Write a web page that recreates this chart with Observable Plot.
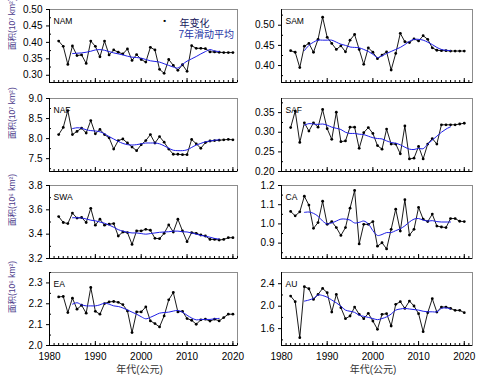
<!DOCTYPE html>
<html><head><meta charset="utf-8">
<script src="https://cdn.jsdelivr.net/npm/d3@7"></script>
<script src="https://cdn.jsdelivr.net/npm/@observablehq/plot@0.6"></script>
<style>
body{margin:0;background:#fff;}
#chart{position:relative;width:479px;height:382px;overflow:hidden;font-family:"Liberation Sans",Arial,"Noto Sans CJK SC",sans-serif;}
#chart .p{position:absolute;}
</style></head><body><div id="chart"></div>
<script>
const years = [1982,1983,1984,1985,1986,1987,1988,1989,1990,1991,1992,1993,1994,1995,1996,1997,1998,1999,2000,2001,2002,2003,2004,2005,2006,2007,2008,2009,2010,2011,2012,2013,2014,2015,2016,2017,2018,2019,2020];
const maYears = [1985,1986,1987,1988,1989,1990,1991,1992,1993,1994,1995,1996,1997,1998,1999,2000,2001,2002,2003,2004,2005,2006,2007,2008,2009,2010,2011,2012,2013,2014,2015,2016,2017];
const decades = [1980,1990,2000,2010,2020];
const allYears = [1980,1981,1982,1983,1984,1985,1986,1987,1988,1989,1990,1991,1992,1993,1994,1995,1996,1997,1998,1999,2000,2001,2002,2003,2004,2005,2006,2007,2008,2009,2010,2011,2012,2013,2014,2015,2016,2017,2018,2019,2020,2021];

const NAM = [0.404,0.388,0.333,0.389,0.360,0.362,0.336,0.404,0.388,0.356,0.404,0.362,0.377,0.370,0.365,0.380,0.345,0.363,0.348,0.340,0.385,0.377,0.318,0.306,0.348,0.330,0.315,0.332,0.312,0.390,0.382,0.382,0.381,0.371,0.371,0.370,0.369,0.369,0.369];
const NAM_ma = [0.366,0.367,0.368,0.370,0.373,0.377,0.378,0.376,0.372,0.368,0.365,0.362,0.358,0.355,0.354,0.352,0.348,0.344,0.342,0.340,0.335,0.330,0.325,0.322,0.333,0.343,0.350,0.357,0.365,0.372,0.378,0.374,0.372];
const SAM = [0.437,0.433,0.395,0.448,0.455,0.433,0.465,0.520,0.470,0.455,0.440,0.449,0.434,0.463,0.477,0.440,0.403,0.444,0.433,0.417,0.426,0.434,0.389,0.430,0.480,0.459,0.457,0.466,0.461,0.474,0.465,0.444,0.438,0.437,0.437,0.436,0.436,0.436,0.436];
const SAM_ma = [0.437,0.450,0.458,0.463,0.463,0.463,0.463,0.458,0.453,0.450,0.446,0.445,0.444,0.440,0.435,0.428,0.420,0.424,0.430,0.435,0.440,0.445,0.452,0.460,0.465,0.465,0.463,0.458,0.452,0.445,0.440,0.438,0.437];
const NAF = [8.10,8.28,8.70,8.10,8.18,8.26,8.14,8.45,8.12,8.23,8.10,8.02,7.74,7.95,7.99,7.89,7.79,7.70,7.85,7.95,8.10,7.89,8.05,7.91,7.74,7.61,7.61,7.60,7.60,7.98,7.87,7.76,7.90,7.94,7.95,7.96,7.97,7.98,7.97];
const NAF_ma = [8.25,8.27,8.26,8.22,8.20,8.19,8.17,8.12,8.05,7.99,7.93,7.88,7.85,7.84,7.85,7.87,7.89,7.89,7.89,7.87,7.82,7.76,7.71,7.70,7.70,7.72,7.78,7.84,7.88,7.92,7.94,7.96,7.97];
const SAF = [0.312,0.354,0.274,0.324,0.303,0.324,0.313,0.358,0.309,0.282,0.351,0.276,0.278,0.313,0.313,0.259,0.299,0.312,0.297,0.266,0.257,0.308,0.270,0.270,0.245,0.316,0.232,0.234,0.264,0.232,0.270,0.284,0.270,0.319,0.319,0.319,0.319,0.321,0.323];
const SAF_ma = [0.318,0.322,0.321,0.320,0.321,0.318,0.313,0.310,0.307,0.300,0.297,0.297,0.295,0.294,0.290,0.286,0.284,0.283,0.278,0.274,0.272,0.268,0.262,0.257,0.256,0.259,0.258,0.270,0.280,0.290,0.300,0.308,0.314];
const SWA = [3.545,3.496,3.487,3.573,3.532,3.537,3.496,3.612,3.474,3.523,3.474,3.482,3.487,3.385,3.418,3.413,3.316,3.427,3.427,3.440,3.432,3.366,3.363,3.407,3.476,3.418,3.523,3.427,3.338,3.413,3.407,3.393,3.385,3.357,3.357,3.352,3.357,3.371,3.371];
const SWA_ma = [3.535,3.535,3.533,3.525,3.515,3.510,3.500,3.490,3.475,3.457,3.437,3.425,3.415,3.410,3.410,3.405,3.400,3.405,3.410,3.415,3.418,3.420,3.425,3.425,3.420,3.418,3.410,3.400,3.390,3.383,3.375,3.365,3.360];
const CA = [1.065,1.042,1.063,1.144,1.098,0.977,1.007,1.118,0.998,1.012,0.981,0.940,0.981,1.082,1.174,0.896,0.998,0.998,1.012,0.884,0.902,0.870,0.972,1.077,0.963,1.126,0.942,0.972,1.086,1.025,1.012,1.051,0.989,0.984,0.981,1.028,1.028,1.014,1.012];
const CA_ma = [1.060,1.062,1.055,1.040,1.015,1.000,1.005,1.015,1.025,1.025,1.020,1.005,1.008,1.015,1.000,0.965,0.940,0.945,0.955,0.955,0.965,0.975,0.990,1.010,1.025,1.028,1.020,1.015,1.017,1.012,1.010,1.010,1.010];
const EA = [2.233,2.235,2.158,2.227,2.174,2.193,2.155,2.278,2.164,2.150,2.201,2.209,2.211,2.207,2.196,2.166,2.062,2.161,2.161,2.185,2.118,2.105,2.089,2.142,2.219,2.254,2.161,2.164,2.129,2.121,2.102,2.123,2.126,2.117,2.126,2.118,2.134,2.150,2.150];
const EA_ma = [2.198,2.205,2.195,2.190,2.190,2.190,2.195,2.203,2.198,2.190,2.187,2.180,2.170,2.160,2.150,2.138,2.128,2.135,2.145,2.155,2.158,2.160,2.165,2.168,2.160,2.145,2.132,2.123,2.125,2.125,2.125,2.128,2.130];
const AU = [2.181,2.080,1.440,2.347,2.311,2.121,2.210,2.317,2.240,1.896,2.210,1.973,1.778,1.825,1.985,1.855,1.778,1.873,1.736,1.588,1.855,1.867,1.647,2.033,2.080,1.961,2.092,2.003,1.867,1.547,1.884,2.133,1.896,1.985,1.985,1.961,1.926,1.926,1.884];
const AU_ma = [2.09,2.11,2.14,2.20,2.19,2.16,2.11,2.06,2.00,1.93,1.91,1.89,1.84,1.82,1.80,1.78,1.76,1.78,1.81,1.86,1.93,1.95,1.96,1.95,1.94,1.93,1.91,1.90,1.90,1.90,1.96,1.97,1.95];

const legendLabels = ["年变化", "7年滑动平均"];
const xTitle = "年代(公元)";

const panels = [
  {name:"NAM", vals:NAM, ma:NAM_ma, col:0, row:0, domain:[0.278,0.50], ticks:[0.30,0.35,0.40,0.45,0.50], minor:[0.325,0.375,0.425,0.475], fmt:".2f", ylabel:"面积(10⁷ km²)", legend:true},
  {name:"SAM", vals:SAM, ma:SAM_ma, col:1, row:0, domain:[0.358,0.539], ticks:[0.40,0.45,0.50], minor:[0.375,0.425,0.475,0.525], fmt:".2f"},
  {name:"NAF", vals:NAF, ma:NAF_ma, col:0, row:1, domain:[7.18,9.0], ticks:[7.5,8.0,8.5,9.0], minor:[7.25,7.75,8.25,8.75], fmt:".1f", ylabel:"面积(10⁷ km²)"},
  {name:"SAF", vals:SAF, ma:SAF_ma, col:1, row:1, domain:[0.20,0.386], ticks:[0.20,0.25,0.30,0.35], minor:[0.225,0.275,0.325,0.375], fmt:".2f"},
  {name:"SWA", vals:SWA, ma:SWA_ma, col:0, row:2, domain:[3.2,3.8], ticks:[3.2,3.4,3.6,3.8], minor:[3.3,3.5,3.7], fmt:".1f", ylabel:"面积(10⁶ km²)"},
  {name:"CA", vals:CA, ma:CA_ma, col:1, row:2, domain:[0.82,1.2], ticks:[0.9,1.0,1.1,1.2], minor:[0.85,0.95,1.05,1.15], fmt:".1f"},
  {name:"EA", vals:EA, ma:EA_ma, col:0, row:3, domain:[2.0,2.35], ticks:[2.0,2.1,2.2,2.3], minor:[2.05,2.15,2.25,2.35], fmt:".1f", ylabel:"面积(10⁶ km²)"},
  {name:"AU", vals:AU, ma:AU_ma, col:1, row:3, domain:[1.30,2.6], ticks:[1.6,2.0,2.4], minor:[1.4,1.8,2.2], fmt:".1f"}
];

const rowTops = [1, 90, 177, 264];
const colLayout = [
  {left:0, width:240, ml:49, mr:3, xd:[1980,2021]},
  {left:240, width:239, ml:41, mr:7, xd:[1980,2021.8]}
];
const FONT = "'Liberation Sans', Arial, 'Noto Sans CJK SC', sans-serif";
const chart = document.getElementById("chart");

for (const p of panels) {
  const c = colLayout[p.col];
  const last = p.row === 3;
  const mt = 8, fh = 73, mb = last ? 37 : 8;
  const data = years.map((y, i) => ({year: y, v: p.vals[i]}));
  const mad = maYears.map((y, i) => ({year: y, v: p.ma[i]}));
  const marks = [
    Plot.frame({stroke: "#8c8c8c"}),
    Plot.ruleX([c.xd[0]], {stroke: "#000"}),
    Plot.ruleY([p.domain[0]], {stroke: "#000"}),
    Plot.axisX({ticks: allYears, tickSize: 2, dy: -2, fill: "none", label: null, stroke: "#000"}),
    Plot.axisX({ticks: decades, tickSize: 4, dy: -4, fill: "none", label: null, stroke: "#000"}),
    Plot.axisY({ticks: p.minor, tickSize: 2, dx: 2, fill: "none", label: null, stroke: "#000"}),
    Plot.axisY({ticks: p.ticks, tickSize: 3, tickPadding: 4, tickFormat: d3.format(p.fmt), fontSize: 10, label: null, stroke: "#000", fill: "#000"}),
    Plot.line(data, {x: "year", y: "v", stroke: "#000", strokeWidth: 0.9}),
    Plot.dot(data, {x: "year", y: "v", r: 1.4, fill: "#000", stroke: "none"}),
    Plot.line(mad, {x: "year", y: "v", stroke: "#1e1ee6", strokeWidth: 1, curve: "catmull-rom"}),
    Plot.text([p.name], {frameAnchor: "top-left", dx: 4, dy: 8, fontSize: 8.5, textAnchor: "start", fill: "#000"})
  ];
  if (p.ylabel) {
    marks.push(Plot.text([p.ylabel], {frameAnchor: "left", rotate: -90, dx: -37, dy: 4, fontSize: 8.5, fill: "#4a3a8a"}));
  }
  if (p.legend) {
    marks.push(Plot.text(["■"], {frameAnchor: "top-left", dx: 114, dy: 10, fontSize: 4, fill: "#000"}));
    marks.push(Plot.text([legendLabels[0]], {frameAnchor: "top-left", dx: 130, dy: 10, fontSize: 10, textAnchor: "start", fill: "#15155a"}));
    marks.push(Plot.text([legendLabels[1]], {frameAnchor: "top-left", dx: 129, dy: 21, fontSize: 10, textAnchor: "start", fill: "#2535a5"}));
  }
  if (last) {
    marks.push(Plot.axisX({ticks: decades, tickSize: 0, tickPadding: 7, tickFormat: d => String(d), fontSize: 10, label: null, fill: "#000"}));
    marks.push(Plot.text([xTitle], {frameAnchor: "bottom", dy: 27, dx: -4, fontSize: 10, fill: "#333"}));
  }
  const svg = Plot.plot({
    width: c.width,
    height: mt + fh + mb,
    marginLeft: c.ml, marginRight: c.mr, marginTop: mt, marginBottom: mb,
    style: {fontFamily: FONT, background: "transparent", overflow: "visible"},
    x: {domain: c.xd, label: null},
    y: {domain: p.domain, label: null},
    marks
  });
  const wrap = document.createElement("div");
  wrap.className = "p";
  wrap.style.left = c.left + "px";
  wrap.style.top = rowTops[p.row] + "px";
  wrap.appendChild(svg);
  chart.appendChild(wrap);
}
</script></body></html>
